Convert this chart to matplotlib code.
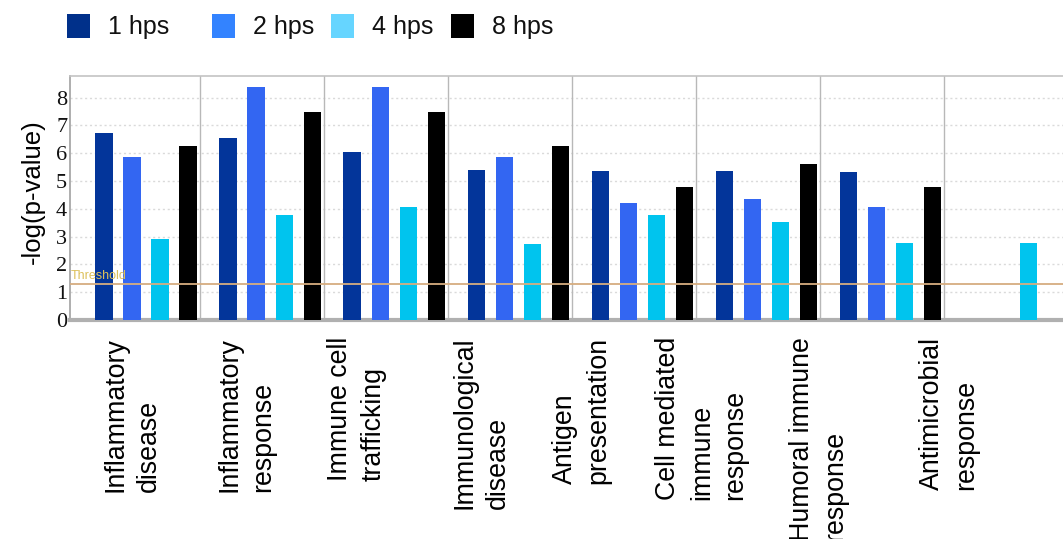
import matplotlib
matplotlib.use("Agg")
import matplotlib.pyplot as plt
from matplotlib.patches import Rectangle
import numpy as np

# ---- data ----
series = ["1 hps", "2 hps", "4 hps", "8 hps"]
categories = ["Inflammatory\ndisease", "Inflammatory\nresponse", "Immune cell\ntrafficking",
              "Immunological\ndisease", "Antigen\npresentation", "Cell mediated\nimmune\nresponse",
              "Humoral immune\nresponse", "Antimicrobial\nresponse"]
hps1 = [6.72, 6.55, 6.04, 5.38, 5.37, 5.37, 5.34, np.nan]
hps2 = [5.86, 8.40, 8.40, 5.88, 4.20, 4.35, 4.08, np.nan]
hps4 = [2.92, 3.78, 4.05, 2.72, 3.78, 3.54, 2.76, 2.76]
hps8 = [6.27, 7.50, 7.50, 6.27, 4.80, 5.62, 4.80, np.nan]
threshold = 1.3
yticks = [0, 1, 2, 3, 4, 5, 6, 7, 8]
label_pos = [0.46, 1.375, 2.27, 3.27, 4.08, 5.05, 5.99, 7.04]

bar_colors = ["#03359a", "#3366f2", "#00c4ee", "#000000"]
legend_colors = ["#00308a", "#3383ff", "#66d5ff", "#000000"]

plt.rcParams['font.family'] = ['Liberation Sans', 'DejaVu Sans']

fig = plt.figure(figsize=(10.63, 5.39), dpi=100)
ax = fig.add_axes([70/1063, 1-320/539, 1-70/1063, (320-76)/539])

ngroups = len(hps4)
idx = np.arange(ngroups)
first = 0.231
step = 0.226
width = 0.141
for k, vals in enumerate([hps1, hps2, hps4, hps8]):
    ax.bar(idx + first + k*step, vals, width=width, color=bar_colors[k], zorder=3)

ax.set_xlim(-0.044, 7.96)
ax.set_ylim(0, 8.78)

# grid
for y in yticks[1:]:
    ax.axhline(y, color="#dadada", lw=1.0, ls=(0, (1.5, 2)), zorder=1)
for x in range(1, ngroups):
    ax.axvline(x, color="#b8b8b8", lw=1.0, zorder=2)

ax.axhline(threshold, color="#d6ad80", lw=1.3, zorder=4)
ax.text(-0.04, threshold + 0.05, "Threshold", color="#dcc05a", fontsize=9,
        ha="left", va="bottom", zorder=5)

ax.set_yticks(yticks)
ax.set_yticklabels([str(t) for t in yticks], family=['Liberation Serif'], fontsize=16, color="#111111")
ax.tick_params(axis="y", length=0, pad=2)

ax.set_xticks(label_pos)
ax.set_xticklabels(categories, rotation=90, fontsize=19.3, linespacing=1.38)
for t in ax.get_xticklabels():
    t.set_multialignment("left")
ax.tick_params(axis="x", length=0, pad=12)

ax.spines["right"].set_visible(False)
ax.spines["left"].set_color("#a8a8a8")
ax.spines["left"].set_linewidth(1.3)
ax.spines["top"].set_color("#c4c4c4")
ax.spines["top"].set_linewidth(1.2)
ax.spines["bottom"].set_color("#b0b0b0")
ax.spines["bottom"].set_linewidth(3)

ax.set_ylabel("-log(p-value)", fontsize=18.5)
ax.yaxis.set_label_coords(-0.025, 0.525)

# legend (manual)
leg_x = [67, 212, 331, 451]
for lx, c, s in zip(leg_x, legend_colors, series):
    fig.add_artist(Rectangle((lx/1063, 1-38/539), 23/1063, 24/539, transform=fig.transFigure,
                             facecolor=c, edgecolor="none"))
    fig.text((lx+41)/1063, 1-27/539, s, fontsize=18, ha="left", va="center", color="#111111")

fig.savefig("out.png", dpi=100)
